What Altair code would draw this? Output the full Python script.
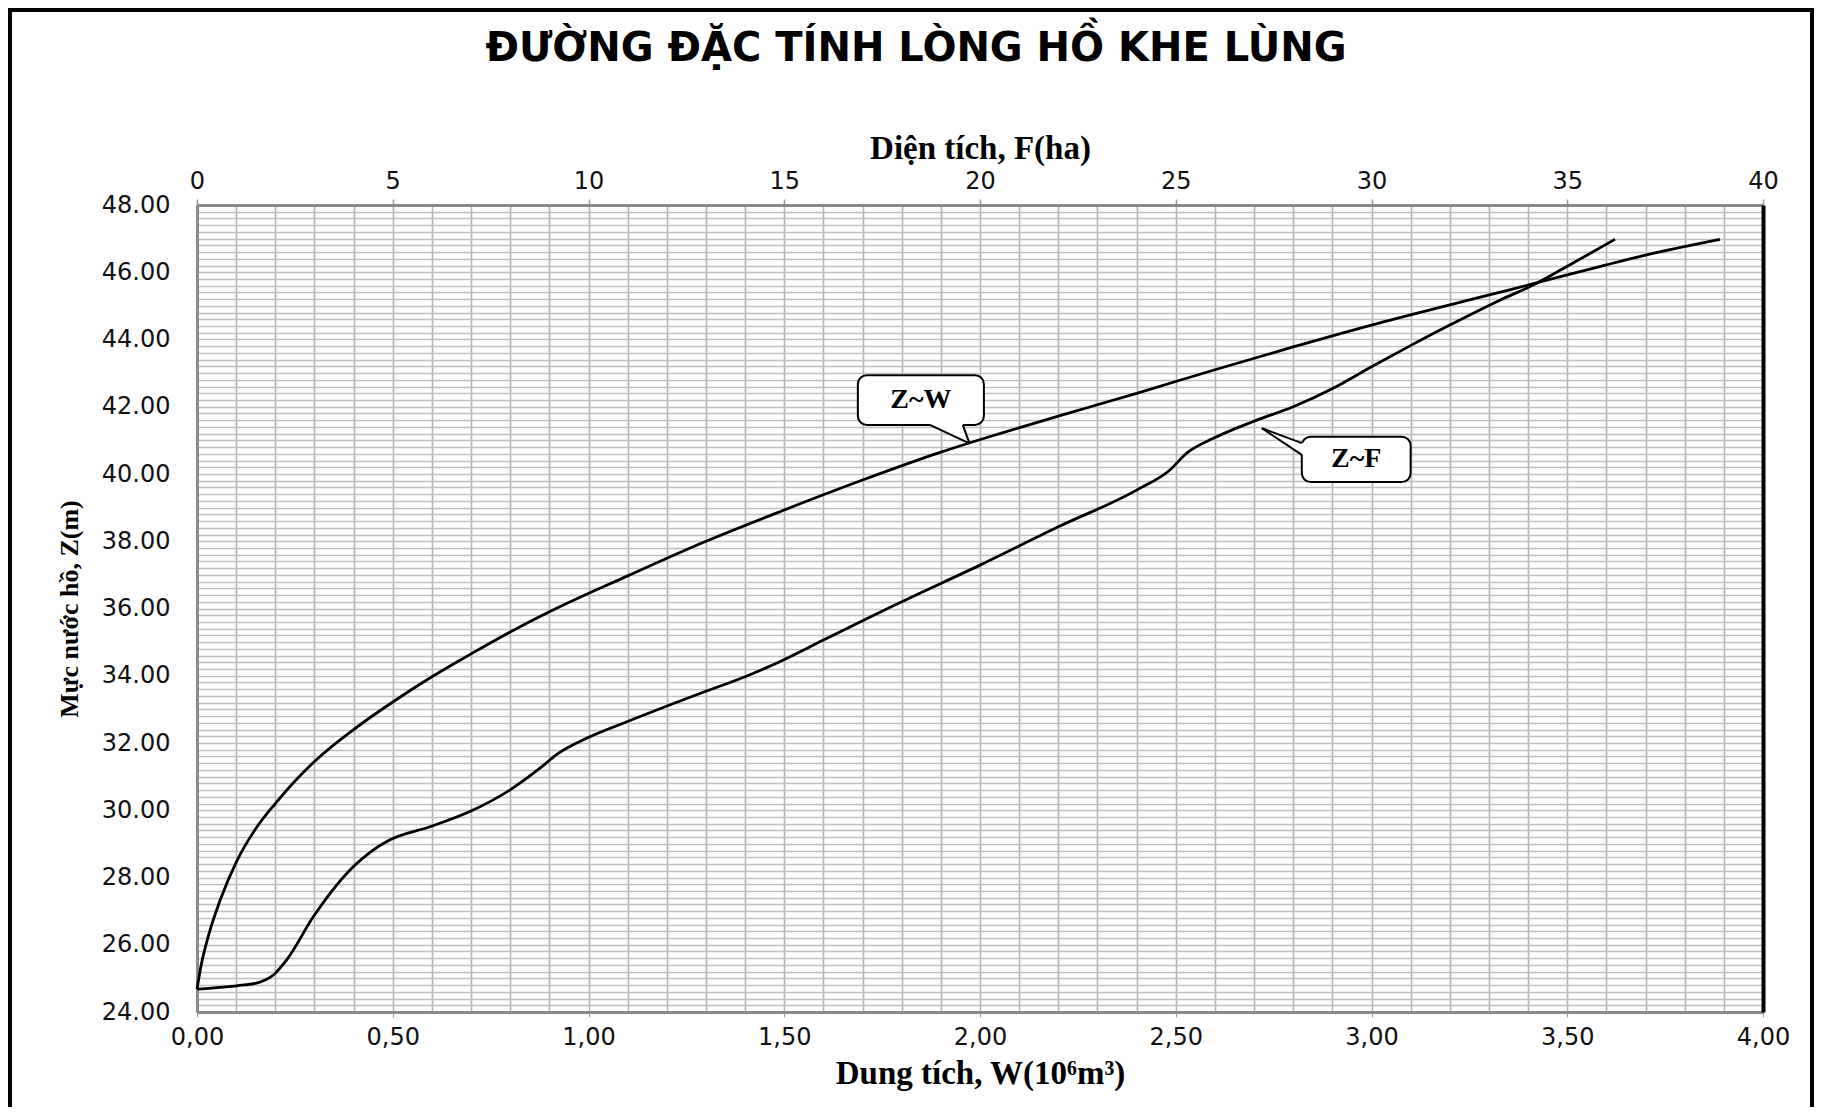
import altair as alt
import pandas as pd

TITLE = "ĐƯỜNG ĐẶC TÍNH LÒNG HỒ KHE LÙNG"
X_TITLE = "Dung tích, W(10⁶m³)"
TOP_TITLE = "Diện tích, F(ha)"
Y_TITLE = "Mực nước hồ, Z(m)"

# Z ~ W curve (volume, 10^6 m3 ; level, m)
ZW_W = [0.0, 0.01, 0.03, 0.06, 0.10, 0.15, 0.20, 0.30, 0.40, 0.50, 0.60, 0.70, 0.80,
        0.90, 1.10, 1.30, 1.50, 1.70, 1.90, 2.05, 2.20, 2.40, 2.60, 2.80, 3.00, 3.20,
        3.35, 3.50, 3.60, 3.70, 3.89]
ZW_Z = [24.68, 25.35, 26.30, 27.35, 28.45, 29.45, 30.20, 31.45, 32.40, 33.22, 33.97,
        34.65, 35.30, 35.90, 36.97, 38.00, 38.93, 39.82, 40.65, 41.20, 41.72, 42.40,
        43.10, 43.78, 44.43, 45.03, 45.47, 45.92, 46.22, 46.51, 46.98]

# Z ~ F curve (area, ha ; level, m)
ZF_F = [0.0, 1.01, 1.52, 1.95, 2.29, 2.97, 3.40, 3.99, 4.42, 4.93, 5.95, 6.97, 7.99,
        8.76, 9.19, 9.95, 10.98, 12.98, 14.0, 14.98, 16.0, 18.0, 20.0, 22.0, 24.0,
        24.85, 25.28, 25.96, 26.98, 28.0, 29.02, 30.0, 31.03, 32.0, 33.28, 34.13,
        34.99, 36.22]
ZF_Z = [24.68, 24.78, 24.86, 25.10, 25.55, 26.83, 27.53, 28.32, 28.75, 29.12, 29.51,
        29.96, 30.60, 31.25, 31.66, 32.14, 32.63, 33.53, 33.97, 34.47, 35.06, 36.20,
        37.29, 38.43, 39.52, 40.12, 40.62, 41.06, 41.56, 42.00, 42.55, 43.19, 43.84,
        44.43, 45.17, 45.62, 46.17, 46.98]

# axis ticks
W_DOMAIN = [0, 4]
F_DOMAIN = [0, 40]
Z_DOMAIN = [24, 48]
W_GRID = [round(i / 10, 1) for i in range(0, 41)]
Z_GRID = [round(24 + i / 5, 1) for i in range(0, 121)]
F_TICKS = [0, 5, 10, 15, 20, 25, 30, 35, 40]

# callouts (in W / Z units)
CALL_LABEL = ["Z~W", "Z~F"]
CALL_X1 = [1.688, 2.822]
CALL_X2 = [2.010, 3.100]
CALL_Y1 = [42.94, 41.11]
CALL_Y2 = [41.46, 39.76]
# tail wedges: white fill polygons
TAIL_ID = ["w", "w", "w", "w", "f", "f", "f"]
TAIL_X = [1.872, 1.956, 1.957, 1.973, 2.720, 2.822, 2.828]
TAIL_YA = [41.52, 41.52, 41.46, 40.91, 41.36, 40.92, 40.92]
TAIL_YB = [41.46, 41.00, 40.99, 40.91, 41.36, 40.57, 40.57]
# tail outline segments
SEG_X1 = [1.872, 1.956, 2.822, 2.822]
SEG_Y1 = [41.46, 41.46, 40.92, 40.57]
SEG_X2 = [1.973, 1.973, 2.720, 2.720]
SEG_Y2 = [40.91, 40.91, 41.36, 41.36]

zw = pd.DataFrame({"W": ZW_W, "Z": ZW_Z})
zf = pd.DataFrame({"F": ZF_F, "Z": ZF_Z})
boxes = pd.DataFrame({"label": CALL_LABEL, "x1": CALL_X1, "x2": CALL_X2,
                      "y1": CALL_Y1, "y2": CALL_Y2})
boxes["cx"] = (boxes["x1"] + boxes["x2"]) / 2
boxes["cy"] = (boxes["y1"] + boxes["y2"]) / 2
tails = pd.DataFrame({"id": TAIL_ID, "x": TAIL_X, "ya": TAIL_YA, "yb": TAIL_YB})
segs = pd.DataFrame({"x1": SEG_X1, "y1": SEG_Y1, "x2": SEG_X2, "y2": SEG_Y2})

SANS = "DejaVu Sans"
SERIF = "Liberation Serif"

w_half = "abs(datum.value*2 - round(datum.value*2)) < 0.001"
z_two = "abs(datum.value/2 - round(datum.value/2)) < 0.001"

w_axis = alt.Axis(
    orient="bottom", values=W_GRID, grid=True, gridColor="#b3b3b3", gridWidth=1.6,
    labelExpr=f"{w_half} ? replace(format(datum.value, '.2f'), '.', ',') : ''",
    labelOverlap=False, labelFlush=False, labelBound=False,
    labelFont=SANS, labelFontSize=24, labelColor="#111111", labelPadding=8,
    tickOpacity={"condition": {"test": w_half, "value": 1}, "value": 0},
    tickColor="#999999", tickSize=5,
    domainColor="#8a8a8a", domainWidth=3,
    title=X_TITLE, titleFont=SERIF, titleFontSize=33, titleFontWeight="bold",
    titleColor="#000000", titlePadding=8,
)
z_axis = alt.Axis(
    orient="left", values=Z_GRID, grid=True, gridColor="#bfbfbf", gridWidth=1.3,
    labelExpr=f"{z_two} ? format(datum.value, '.2f') : ''",
    labelOverlap=False, labelBound=False, labelFlush=False,
    labelFont=SANS, labelFontSize=24, labelColor="#111111", labelPadding=27,
    ticks=False, domainColor="#8a8a8a", domainWidth=3,
    title=Y_TITLE, titleFont=SERIF, titleFontSize=26, titleFontWeight="bold",
    titleColor="#000000", titlePadding=19,
)
f_axis = alt.Axis(
    orient="top", values=F_TICKS, grid=False, format="d",
    labelOverlap=False, labelFlush=False, labelBound=False,
    labelFont=SANS, labelFontSize=24, labelColor="#111111", labelPadding=6,
    tickColor="#999999", tickSize=6, tickWidth=1.5,
    domainColor="#8a8a8a", domainWidth=3,
    title=TOP_TITLE, titleFont=SERIF, titleFontSize=33, titleFontWeight="bold",
    titleColor="#000000", titlePadding=4,
)
zr_axis = alt.Axis(orient="right", labels=False, ticks=False, grid=False,
                   domainColor="#000000", domainWidth=4, title="")

w_scale = alt.Scale(domain=W_DOMAIN, nice=False, zero=False)
f_scale = alt.Scale(domain=F_DOMAIN, nice=False, zero=False)
z_scale = alt.Scale(domain=Z_DOMAIN, nice=False, zero=False)

line_w = alt.Chart(zw).mark_line(color="black", strokeWidth=2.8, interpolate="monotone").encode(
    x=alt.X("W:Q", scale=w_scale, axis=w_axis),
    y=alt.Y("Z:Q", scale=z_scale, axis=z_axis),
)

frame = alt.Chart(alt.Data(values=[{}])).mark_rect(
    fill="transparent", stroke="black", strokeWidth=4, clip=False
).encode(
    x=alt.value(-187), x2=alt.value(1615), y=alt.value(-195), y2=alt.value(930)
)

title_txt = alt.Chart(alt.Data(values=[{"t": TITLE}])).mark_text(
    font=SANS, fontSize=40, fontWeight="bold", color="#000000",
    align="center", baseline="middle", clip=False
).encode(x=alt.value(719), y=alt.value(-156), text="t:N")

box = alt.Chart(boxes).mark_rect(
    fill="white", stroke="black", strokeWidth=2, cornerRadius=9
).encode(
    x=alt.X("x1:Q", scale=w_scale, axis=w_axis), x2="x2:Q",
    y=alt.Y("y1:Q", scale=z_scale, axis=z_axis), y2="y2:Q",
)
tail = alt.Chart(tails).mark_area(color="white", interpolate="linear").encode(
    x=alt.X("x:Q", scale=w_scale, axis=w_axis),
    y=alt.Y("ya:Q", scale=z_scale, axis=z_axis), y2="yb:Q",
    detail="id:N",
)
seg = alt.Chart(segs).mark_rule(color="black", strokeWidth=2).encode(
    x=alt.X("x1:Q", scale=w_scale, axis=w_axis), x2="x2:Q",
    y=alt.Y("y1:Q", scale=z_scale, axis=z_axis), y2="y2:Q",
)
txt = alt.Chart(boxes).mark_text(
    font=SERIF, fontSize=28, fontWeight="bold", color="black", baseline="middle", align="center"
).encode(
    x=alt.X("cx:Q", scale=w_scale, axis=w_axis),
    y=alt.Y("cy:Q", scale=z_scale, axis=z_axis),
    text="label:N",
)

w_group = alt.layer(line_w, box, tail, seg, txt, frame, title_txt)

line_f = alt.Chart(zf).mark_line(color="black", strokeWidth=2.8, interpolate="monotone").encode(
    x=alt.X("F:Q", scale=f_scale, axis=f_axis),
    y=alt.Y("Z:Q", scale=z_scale, axis=zr_axis),
)

chart = alt.layer(w_group, line_f).resolve_scale(
    x="independent", y="independent"
).properties(
    width=1566, height=807,
    autosize=alt.AutoSizeParams(type="none"),
    padding={"left": 189, "top": 197, "right": 51, "bottom": 95},
).configure_view(stroke="transparent")

chart.save("out.html", embed_options={"renderer": "svg", "actions": False})
